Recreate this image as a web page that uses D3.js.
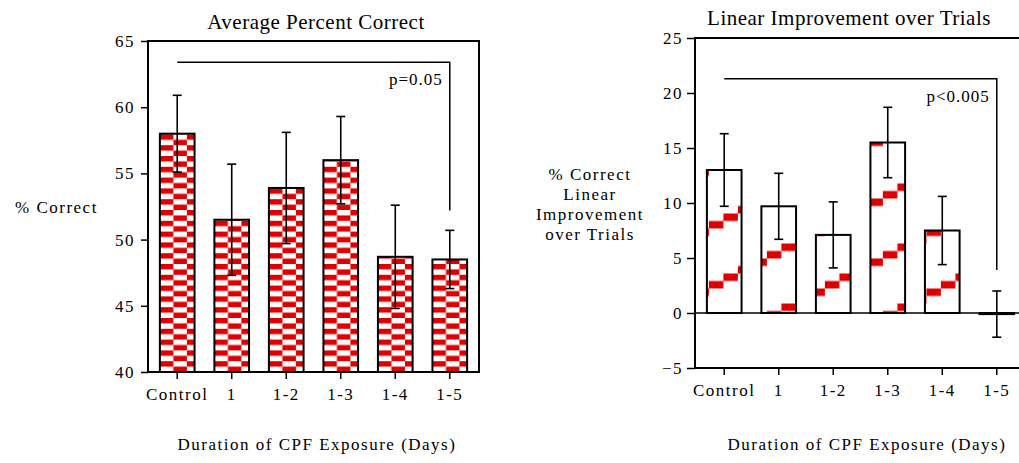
<!DOCTYPE html>
<html>
<head>
<meta charset="utf-8">
<script src="https://cdn.jsdelivr.net/npm/d3@7"></script>
<style>
body { margin: 0; background: #fff; }
svg text { font-family: "Liberation Serif", "Times New Roman", Times, serif !important; fill: #000; }
</style>
</head>
<body>
<svg width="1019" height="463"></svg>
<script>
// Data
var categories = ['Control', '1', '1-2', '1-3', '1-4', '1-5'];

var avgCorrect = [58.0, 51.5, 53.9, 56.0, 48.7, 48.5];
var avgSem = [2.9, 4.2, 4.2, 3.3, 3.9, 2.2];
var avgTicks = [40, 45, 50, 55, 60, 65];

var linImprove = [13.0, 9.7, 7.1, 15.5, 7.5, -0.1];
var linSem = [3.3, 3.0, 3.0, 3.2, 3.1, 2.1];
var linTicks = [-5, 0, 5, 10, 15, 20, 25];

// significance brackets: [level, where the right leg stops]
var avgBracket = [63.4, 52.2];
var linBracket = [21.3, 3.9];

var RED = '#dd0000';
var SERIF = '"Liberation Serif", "Times New Roman", serif';

var svg = d3.select('svg');
var defs = svg.append('defs');

function drawPanel(cfg) {
    var g = svg.append('g');

    var x = d3.scaleBand()
        .domain(categories)
        .range([cfg.left, cfg.right])
        .paddingInner(0.364)
        .paddingOuter(0.218);

    var y = d3.scaleLinear()
        .domain(cfg.domain)
        .range([cfg.bottom, cfg.top]);

    var rows = categories.map(function(c, i) {
        return {cat: c, val: cfg.values[i], sem: cfg.sems[i], i: i};
    });

    // fills
    if (cfg.fill === 'checker') {
        var cw = 13.5, ch = 5.4;
        var pats = defs.selectAll('pattern.chk')
            .data(rows)
            .join('pattern')
            .attr('class', 'chk')
            .attr('id', function(d) { return 'chk' + d.i; })
            .attr('patternUnits', 'userSpaceOnUse')
            .attr('x', function(d) { return x(d.cat); })
            .attr('y', cfg.bottom)
            .attr('width', 2 * cw)
            .attr('height', 2 * ch);
        pats.append('rect').attr('width', 2 * cw).attr('height', 2 * ch).attr('fill', '#fff');
        pats.append('rect').attr('width', cw).attr('height', ch).attr('fill', RED);
        pats.append('rect').attr('x', cw).attr('y', ch).attr('width', cw).attr('height', ch).attr('fill', RED);
    } else {
        var sw = 14.5, rise = 7.5, steps = 8;
        var pat = defs.append('pattern')
            .attr('id', 'stairs')
            .attr('patternUnits', 'userSpaceOnUse')
            .attr('x', x(categories[0]) + 2)
            .attr('y', y(0) - 32 - rise * (steps - 1))
            .attr('width', sw * steps)
            .attr('height', rise * steps);
        pat.append('rect').attr('width', sw * steps).attr('height', rise * steps).attr('fill', '#fff');
        pat.selectAll('rect.step')
            .data(d3.range(steps))
            .join('rect')
            .attr('class', 'step')
            .attr('x', function(k) { return k * sw; })
            .attr('y', function(k) { return rise * (steps - 1) - k * rise; })
            .attr('width', sw)
            .attr('height', rise)
            .attr('fill', RED);
    }

    // y axis
    var yAxis = d3.axisLeft(y).tickValues(cfg.ticks).tickSize(cfg.tickLen).tickPadding(cfg.tickPad).tickSizeOuter(0);
    var yg = g.append('g')
        .attr('transform', 'translate(' + cfg.left + ',0)')
        .call(yAxis)
        .attr('font-family', SERIF)
        .attr('font-size', 17);
    yg.select('.domain').remove();
    yg.selectAll('line').attr('stroke-width', 1.5);
    yg.selectAll('text').style('letter-spacing', '1.5px');

    // x axis
    var xAxis = d3.axisBottom(x).tickSize(6).tickPadding(cfg.xPad).tickSizeOuter(0);
    var xg = g.append('g')
        .attr('transform', 'translate(0,' + (cfg.bottom + 1) + ')')
        .call(xAxis)
        .attr('font-family', SERIF)
        .attr('font-size', 17);
    xg.select('.domain').remove();
    xg.selectAll('line').attr('stroke-width', 1.5);
    xg.selectAll('text').style('letter-spacing', '1.5px');

    // zero line
    if (cfg.domain[0] < 0) {
        g.append('line')
            .attr('x1', cfg.left).attr('x2', cfg.right)
            .attr('y1', y(0)).attr('y2', y(0))
            .attr('stroke', '#000').attr('stroke-width', 1.5);
    }

    // bars
    var base = Math.max(cfg.domain[0], 0);
    g.selectAll('.bar')
        .data(rows)
        .join('rect')
        .attr('class', 'bar')
        .attr('x', function(d) { return x(d.cat); })
        .attr('width', x.bandwidth())
        .attr('y', function(d) { return Math.min(y(d.val), y(base)); })
        .attr('height', function(d) { return Math.max(Math.abs(y(base) - y(d.val)), 1); })
        .attr('fill', function(d) { return cfg.fill === 'checker' ? 'url(#chk' + d.i + ')' : 'url(#stairs)'; })
        .attr('stroke', '#000')
        .attr('stroke-width', 2);

    // error bars
    var cap = 4.5;
    var eb = g.selectAll('.err')
        .data(rows)
        .join('g')
        .attr('class', 'err')
        .attr('transform', function(d) { return 'translate(' + (x(d.cat) + x.bandwidth() / 2) + ',0)'; })
        .attr('stroke', '#000')
        .attr('stroke-width', 1.6);
    eb.append('line')
        .attr('y1', function(d) { return y(d.val - d.sem); })
        .attr('y2', function(d) { return y(d.val + d.sem); });
    eb.append('line')
        .attr('x1', -cap).attr('x2', cap)
        .attr('y1', function(d) { return y(d.val + d.sem); })
        .attr('y2', function(d) { return y(d.val + d.sem); });
    eb.append('line')
        .attr('x1', -cap).attr('x2', cap)
        .attr('y1', function(d) { return y(d.val - d.sem); })
        .attr('y2', function(d) { return y(d.val - d.sem); });

    // frame
    g.append('rect')
        .attr('x', cfg.left).attr('y', cfg.top)
        .attr('width', cfg.right - cfg.left).attr('height', cfg.bottom - cfg.top)
        .attr('fill', 'none').attr('stroke', '#000').attr('stroke-width', 2);

    // significance bracket
    var bx0 = x(categories[0]) + x.bandwidth() / 2;
    var bx1 = x(categories[categories.length - 1]) + x.bandwidth() / 2;
    g.append('path')
        .attr('d', 'M' + bx0 + ',' + y(cfg.bracket[0]) + 'H' + bx1 + 'V' + y(cfg.bracket[1]))
        .attr('fill', 'none').attr('stroke', '#000').attr('stroke-width', 1.5);
    g.append('text')
        .attr('x', bx1 - 7)
        .attr('y', y(cfg.bracket[0]) + 23)
        .attr('text-anchor', 'end')
        .attr('font-size', 17)
        .style('letter-spacing', '1px')
        .text(cfg.pText);

    // title
    g.append('text')
        .attr('x', cfg.titleX).attr('y', cfg.titleY)
        .attr('text-anchor', 'middle')
        .attr('font-size', 21)
        .style('letter-spacing', '0.5px')
        .text(cfg.title);

    // x label
    g.append('text')
        .attr('x', cfg.xLabelX).attr('y', 450)
        .attr('text-anchor', 'middle')
        .attr('font-size', 17)
        .style('letter-spacing', '1.5px')
        .text('Duration of CPF Exposure (Days)');

    // y label
    g.append('text')
        .attr('x', cfg.yLabelX)
        .attr('text-anchor', cfg.yLabelAnchor)
        .attr('font-size', 17)
        .style('letter-spacing', '1.5px')
        .selectAll('tspan')
        .data(cfg.yLabel)
        .join('tspan')
        .attr('x', cfg.yLabelX)
        .attr('y', function(d, i) { return cfg.yLabelY + i * 20; })
        .text(function(d) { return d; });
}

drawPanel({
    left: 148, right: 479, top: 41, bottom: 372,
    domain: [40, 65], ticks: avgTicks,
    values: avgCorrect, sems: avgSem,
    fill: 'checker',
    tickLen: 7, tickPad: 6, xPad: 9,
    bracket: avgBracket, pText: 'p=0.05',
    title: 'Average Percent Correct', titleX: 316, titleY: 29,
    xLabelX: 317,
    yLabel: ['% Correct'], yLabelX: 15, yLabelY: 213, yLabelAnchor: 'start'
});

drawPanel({
    left: 695, right: 1026, top: 38, bottom: 368,
    domain: [-5, 25], ticks: linTicks,
    values: linImprove, sems: linSem,
    fill: 'stairs',
    tickLen: 8, tickPad: 4, xPad: 9,
    bracket: linBracket, pText: 'p<0.005',
    title: 'Linear Improvement over Trials', titleX: 849, titleY: 25,
    xLabelX: 867,
    yLabel: ['% Correct', 'Linear', 'Improvement', 'over Trials'], yLabelX: 590, yLabelY: 180, yLabelAnchor: 'middle'
});
</script>
</body>
</html>
